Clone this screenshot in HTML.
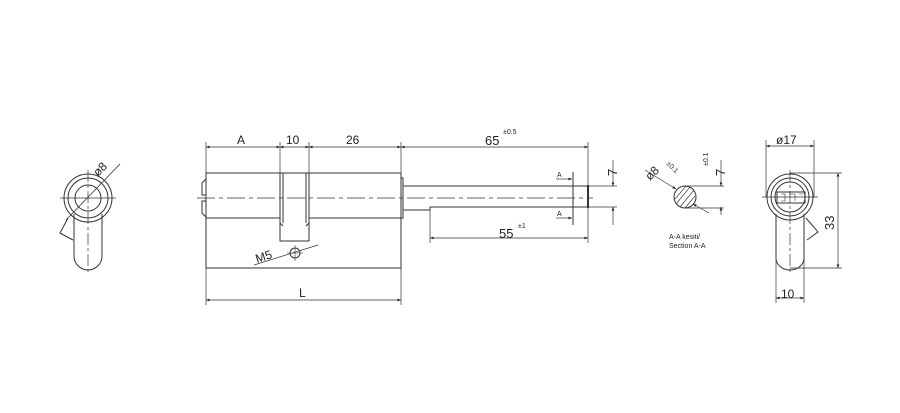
<!DOCTYPE html>
<html><head><style>html,body{margin:0;padding:0;background:#fff}svg{display:block}</style></head><body>
<svg width="900" height="413" viewBox="0 0 900 413" xmlns="http://www.w3.org/2000/svg" font-family="Liberation Sans, sans-serif">
<rect width="900" height="413" fill="#fff"/>
<defs><marker id="ar" viewBox="0 0 10 10" refX="10" refY="5" markerWidth="7" markerHeight="5" orient="auto-start-reverse"><path d="M0,1 L10,5 L0,9 z" fill="#222"/></marker></defs>
<g stroke="#333" stroke-width="1" fill="none">
<circle cx="88" cy="198" r="24"/><circle cx="88" cy="198" r="20"/><circle cx="88" cy="198" r="13"/>
<path d="M74,214 L74,256 A14,14 0 0 0 102,256 L102,214"/>
<path d="M68,218 L60,233 L73,240"/>
<line x1="60" y1="198" x2="116" y2="198" stroke-width="0.7"/>
<line x1="88" y1="170" x2="88" y2="275" stroke-width="0.7" stroke-dasharray="12,3,3,3"/>
<line x1="66" y1="220" x2="120" y2="164" stroke-width="0.8"/>
<path d="M206,173 L280,173 M309,173 L401,173 M206,218 L280,218 M309,218 L401,218"/>
<rect x="206" y="173" width="195" height="95"/>
<path d="M206,179 L202,183 L202,195 L206,195 M206,201 L202,201 L202,213 L206,217"/>
<path d="M280,173 L280,241 L309,241 L309,173 M283,173 L283,223 M306,173 L306,223 M280,223 L283,226 M309,223 L306,226"/>
<rect x="401" y="178" width="2" height="40"/>
<path d="M403,186 L588,186 M403,210 L430,210 L430,207 L588,207"/>
<line x1="588" y1="185" x2="588" y2="208" stroke-width="2"/>
<line x1="197" y1="198" x2="593" y2="198" stroke-width="0.8" stroke-dasharray="18,4,4,4"/>
<line x1="573" y1="172" x2="573" y2="225"/>
<circle cx="295" cy="253" r="5"/>
<path d="M295,245 L295,261 M287,253 L303,253" stroke-width="0.6"/>
<line x1="254" y1="265" x2="318" y2="245" stroke-width="0.7"/>
<path d="M206,142 L206,305 M280,142 L280,173 M309,142 L309,173 M401,142 L401,305 M588,142 L588,243 M430,210 L430,243 M588,186 L617,186 M588,207 L617,207" stroke-width="0.7"/>
<g stroke-width="0.7" marker-start="url(#ar)" marker-end="url(#ar)">
<line x1="206" y1="147" x2="280" y2="147"/><line x1="280" y1="147" x2="309" y2="147"/><line x1="309" y1="147" x2="401" y2="147"/><line x1="401" y1="147" x2="588" y2="147"/>
<line x1="430" y1="238" x2="588" y2="238"/><line x1="206" y1="300" x2="401" y2="300"/>
<line x1="766" y1="146" x2="814" y2="146"/><line x1="838" y1="173" x2="838" y2="268"/><line x1="776" y1="298" x2="804" y2="298"/>
</g>
<g stroke-width="0.7">
<line x1="613" y1="160" x2="613" y2="186" marker-end="url(#ar)"/><line x1="613" y1="225" x2="613" y2="207" marker-end="url(#ar)"/>
<line x1="721" y1="160" x2="721" y2="186" marker-end="url(#ar)"/><line x1="721" y1="215" x2="721" y2="207" marker-end="url(#ar)"/>
<line x1="556" y1="179" x2="572" y2="179" marker-end="url(#ar)"/><line x1="556" y1="218" x2="572" y2="218" marker-end="url(#ar)"/>
<line x1="645" y1="170" x2="676" y2="189" marker-end="url(#ar)"/><line x1="709" y1="213" x2="693" y2="204" marker-end="url(#ar)"/>
</g>
<circle cx="685" cy="197" r="11"/>
<path d="M676,204 L690,187 M680,207 L694,190 M675,199 L686,186 M685,208 L695,196" stroke-width="0.6"/>
<path d="M685,186 L724,186 M685,208 L724,208" stroke-width="0.7"/>
<circle cx="790" cy="197" r="23"/><circle cx="790" cy="197" r="19"/><circle cx="790" cy="197" r="15"/>
<rect x="777" y="192" width="28" height="11"/>
<path d="M781,194 L785,194 L785,201 L781,201 M789,194 L795,194 L795,201 M799,194 L803,194" stroke-width="0.6"/>
<path d="M776,214 L776,258 A14,12 0 0 0 804,258 L804,214"/>
<path d="M806,218 L818,232 L807,240"/>
<path d="M766,140 L766,197 M814,140 L814,197 M776,258 L776,303 M804,258 L804,303 M790,173 L842,173 M790,268 L842,268" stroke-width="0.7"/>
<line x1="762" y1="197" x2="818" y2="197" stroke-width="0.7"/>
<line x1="790" y1="170" x2="790" y2="275" stroke-width="0.7" stroke-dasharray="12,3,3,3"/>
</g>
<g fill="#222" font-size="12">
<text x="237" y="144">A</text><text x="286" y="144">10</text><text x="346" y="144">26</text>
<text x="485" y="145" font-size="13">65</text><text x="503" y="134" font-size="7">±0.5</text>
<text x="499" y="238" font-size="13">55</text><text x="518" y="228" font-size="7">±1</text>
<text x="299" y="297">L</text>
<text x="257" y="263" transform="rotate(-18 257 263)">M5</text>
<text x="557" y="177" font-size="7">A</text><text x="557" y="216" font-size="7">A</text>
<text x="617" y="176" transform="rotate(-90 617 176)" font-size="13">7</text>
<text x="725" y="176" transform="rotate(-90 725 176)" font-size="13">7</text>
<text x="708" y="166" transform="rotate(-90 708 166)" font-size="7">±0.1</text>
<text x="650" y="181" transform="rotate(-45 650 181)">ø8</text>
<text x="666" y="164" transform="rotate(45 666 164)" font-size="7">±0.1</text>
<text x="98" y="177" transform="rotate(-45 98 177)">ø8</text>
<text x="776" y="144">ø17</text>
<text x="834" y="230" transform="rotate(-90 834 230)" font-size="13">33</text>
<text x="781" y="298">10</text>
<text x="669" y="239" font-size="7">A-A kesiti/</text>
<text x="669" y="248" font-size="7">Section A-A</text>
</g>
</svg>
</body></html>
